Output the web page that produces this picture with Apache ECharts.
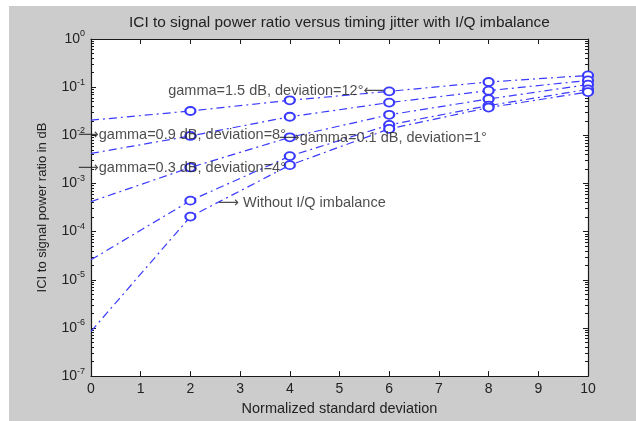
<!DOCTYPE html>
<html>
<head>
<meta charset="utf-8">
<script src="https://cdn.jsdelivr.net/npm/echarts@6/dist/echarts.min.js"></script>
<style>
  html, body { margin: 0; padding: 0; background: #ffffff; }
  #bg { position: absolute; left: 9px; top: 6px; width: 627px; height: 415px; background: #cccccc; }
  #chart { position: absolute; left: 0; top: 0; width: 636px; height: 421px; }
</style>
</head>
<body>
<div id="bg"></div>
<div id="chart"></div>
<script>
// ---- data ----
const titleText = 'ICI to signal power ratio versus timing jitter with I/Q imbalance';
const xAxisName = 'Normalized standard deviation';
const yAxisName = 'ICI to signal power ratio in dB';
const xValues = [0, 2, 4, 6, 8, 10];
const xTickLabels = ['0', '1', '2', '3', '4', '5', '6', '7', '8', '9', '10'];
const seriesNames = [
  'gamma=1.5 dB, deviation=12°',
  'gamma=0.9 dB, deviation=8°',
  'gamma=0.3 dB, deviation=4°',
  'gamma=0.1 dB, deviation=1°',
  'Without I/Q imbalance'
];
const gamma15 = [0.0206, 0.032, 0.0533, 0.0818, 0.128, 0.175];
const gamma09 = [0.0042, 0.0097, 0.0243, 0.0478, 0.0845, 0.138];
const gamma03 = [0.00042, 0.00215, 0.0091, 0.0267, 0.0567, 0.113];
const gamma01 = [0.000026, 0.00044, 0.0037, 0.0164, 0.0414, 0.09];
const noImbalance = [0.00000085, 0.000205, 0.0024, 0.0136, 0.0377, 0.0792];
const yExponents = [-7, -6, -5, -4, -3, -2, -1, 0];

// annotation texts and their anchor points (data coordinates)
const annotationTexts = [
  'gamma=1.5 dB, deviation=12°\u27F5',
  '\u27F6gamma=0.9 dB, deviation=8°',
  '\u27F6gamma=0.3 dB, deviation=4°',
  '\u27F6gamma=0.1 dB, deviation=1°',
  '\u27F6 Without I/Q imbalance'
];
const annotationX = [5.9, 0, 0, 3.78, 2.56];
const annotationY = [0.0818, 0.0100, 0.00208, 0.0087, 0.0004];
const annotationSide = ['left', 'right', 'right', 'right', 'right'];

// ---- chart ----
const textColor = '#222222';
const lineColor = '#3a3aff';
const fontFam = '"Liberation Sans", Arial, "DejaVu Sans", sans-serif';
const allSeries = [gamma15, gamma09, gamma03, gamma01, noImbalance];

const minorTicks = [];
for (let e = -7; e < 0; e++) {
  for (let m = 2; m <= 9; m++) minorTicks.push(m * Math.pow(10, e));
}
const majorTicks = yExponents.map(e => Math.pow(10, e));

const axisLineStyle = { color: '#1a1a1a', width: 1.2 };

function logAxis(pos, ticks, len, showLine, showLabel) {
  return {
    type: 'log', logBase: 10, min: 1e-7, max: 1, position: pos,
    axisLine: { show: showLine, lineStyle: axisLineStyle },
    axisTick: { show: true, inside: true, length: len, customValues: ticks, lineStyle: { color: '#1a1a1a', width: 1 } },
    axisLabel: showLabel ? {
      show: true, margin: 6, customValues: majorTicks,
      formatter: v => '{b|10}{e|' + Math.round(Math.log10(v)) + '}',
      rich: {
        b: { fontSize: 14, color: textColor, fontFamily: fontFam },
        e: { fontSize: 9, color: textColor, fontFamily: fontFam, padding: [0, 0, 10, 0] }
      }
    } : { show: false },
    splitLine: { show: false },
    minorSplitLine: { show: false }
  };
}

const series = allSeries.map((vals, si) => ({
  name: seriesNames[si],
  type: 'line',
  xAxisIndex: 0, yAxisIndex: 0,
  data: xValues.map((x, i) => i === 0 ? { value: [x, vals[i]], symbol: 'none' } : [x, vals[i]]),
  symbol: 'emptyCircle',
  symbolSize: [10, 8],
  showAllSymbol: true,
  clip: false,
  lineStyle: { color: lineColor, width: 1.2, type: [8, 4, 2, 4] },
  itemStyle: { color: lineColor, borderColor: lineColor, borderWidth: 1 },
  emphasis: { disabled: true },
  z: 3
}));

series.push({
  type: 'scatter',
  xAxisIndex: 0, yAxisIndex: 0,
  symbolSize: 0,
  silent: true,
  clip: false,
  data: annotationTexts.map((t, i) => ({
    value: [annotationX[i], annotationY[i]],
    label: {
      show: true, formatter: t, position: annotationSide[i], distance: 0,
      offset: annotationSide[i] === 'right' && annotationX[i] === 0 ? [-13, 0] : [0, 0],
      fontSize: 14.5, color: textColor, fontFamily: fontFam
    }
  })),
  z: 5
});

const chart = echarts.init(document.getElementById('chart'), null, { renderer: 'canvas' });
chart.setOption({
  backgroundColor: 'transparent',
  animation: false,
  title: {
    text: titleText, left: 124, top: 10,
    textStyle: { fontSize: 15.4, fontWeight: 'normal', color: textColor, fontFamily: fontFam }
  },
  grid: { left: 91, top: 39, right: 48, bottom: 44, show: true, backgroundColor: '#ffffff', borderWidth: 0 },
  xAxis: [
    {
      type: 'value', min: 0, max: 10, interval: 1, position: 'bottom',
      name: xAxisName, nameLocation: 'middle', nameGap: 21,
      nameTextStyle: { fontSize: 14.5, color: textColor, fontFamily: fontFam },
      axisLine: { show: true, lineStyle: axisLineStyle },
      axisTick: { show: true, inside: true, length: 5, lineStyle: { color: '#1a1a1a', width: 1 } },
      axisLabel: { show: true, margin: 6, fontSize: 14, color: textColor, fontFamily: fontFam,
        formatter: v => xTickLabels[Math.round(v)] },
      splitLine: { show: false }
    },
    {
      type: 'value', min: 0, max: 10, interval: 1, position: 'top',
      axisLine: { show: true, lineStyle: axisLineStyle },
      axisTick: { show: true, inside: true, length: 5, lineStyle: { color: '#1a1a1a', width: 1 } },
      axisLabel: { show: false },
      splitLine: { show: false }
    }
  ],
  yAxis: [
    Object.assign(logAxis('left', majorTicks, 5, true, true), {
      name: yAxisName, nameLocation: 'middle', nameGap: 42, nameRotate: 90,
      nameTextStyle: { fontSize: 13, color: textColor, fontFamily: fontFam }
    }),
    logAxis('left', minorTicks, 3, false, false),
    logAxis('right', majorTicks, 5, true, false),
    logAxis('right', minorTicks, 3, false, false)
  ],
  series: series
});
</script>
</body>
</html>
